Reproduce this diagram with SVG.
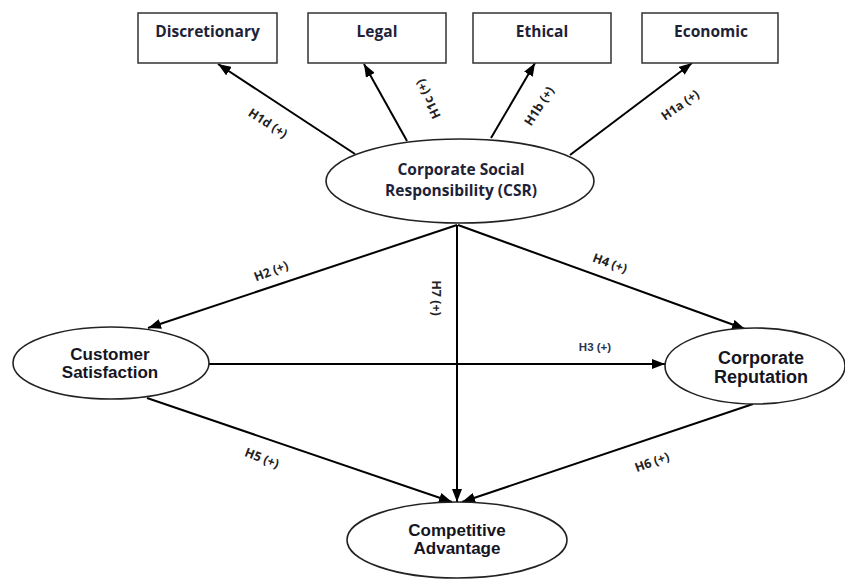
<svg xmlns="http://www.w3.org/2000/svg" width="845" height="579" viewBox="0 0 845 579">
<defs>
<marker id="ah" markerUnits="userSpaceOnUse" markerWidth="13" markerHeight="10" refX="13" refY="5" orient="auto">
<path d="M0,0 L13,5 L0,10 z" fill="#000"/>
</marker>
<style>
.box{fill:#fff;stroke:#333;stroke-width:1.5}
.ell{fill:#fff;stroke:#222;stroke-width:1.6}
.t1{font-family:"Open Sans","Liberation Sans",sans-serif;font-weight:bold;font-size:15.5px;fill:#1d2238;text-anchor:middle}
.t2{font-family:"Liberation Sans",Arial,sans-serif;font-weight:bold;font-size:17px;fill:#15151f;text-anchor:middle}
.lb{font-family:"Open Sans","Liberation Sans",sans-serif;font-weight:bold;font-size:12.5px;fill:#222;text-anchor:middle;dominant-baseline:central}
.lb3{font-family:"Liberation Sans",Arial,sans-serif;font-weight:bold;font-size:11.5px;fill:#2a3350;text-anchor:middle;dominant-baseline:central}
.cn{stroke:#000;stroke-width:2;fill:none;marker-end:url(#ah)}
</style>
</defs>
<rect width="845" height="579" fill="#fff"/>
<g id="connectors">
<line class="cn" x1="355" y1="154" x2="218" y2="64"/>
<line class="cn" x1="407" y1="141" x2="364" y2="64"/>
<line class="cn" x1="491" y1="138" x2="535" y2="63"/>
<line class="cn" x1="570" y1="155" x2="692" y2="63"/>
<line class="cn" x1="457" y1="225" x2="148" y2="328"/>
<line class="cn" x1="458" y1="225" x2="745" y2="329"/>
<line class="cn" x1="457" y1="225" x2="457" y2="502"/>
<line class="cn" x1="209" y1="364" x2="665" y2="364"/>
<line class="cn" x1="147" y1="398" x2="452" y2="502"/>
<line class="cn" x1="753" y1="404" x2="462" y2="502"/>
<text class="lb" transform="translate(268,123) rotate(33)">H1d (+)</text>
<text class="lb" transform="translate(428,99) rotate(-115)">H1c (+)</text>
<text class="lb" transform="translate(539,106) rotate(-57)">H1b (+)</text>
<text class="lb" transform="translate(680,105) rotate(-35)">H1a (+)</text>
<text class="lb" transform="translate(271,271) rotate(-21)">H2 (+)</text>
<text class="lb" transform="translate(610,263) rotate(20)">H4 (+)</text>
<text class="lb" transform="translate(436,298) rotate(90)">H7 (+)</text>
<text class="lb3" x="595" y="347">H3 (+)</text>
<text class="lb" transform="translate(262,458) rotate(21)">H5 (+)</text>
<text class="lb" transform="translate(652,462) rotate(-20)">H6 (+)</text>
</g>
<g id="discretionary">
<rect class="box" x="138" y="13" width="139" height="50"/>
<text class="t1" x="207.5" y="37">Discretionary</text>
</g>
<g id="legal">
<rect class="box" x="308" y="13" width="138" height="50"/>
<text class="t1" x="377" y="37">Legal</text>
</g>
<g id="ethical">
<rect class="box" x="473" y="13" width="138" height="50"/>
<text class="t1" x="542" y="37">Ethical</text>
</g>
<g id="economic">
<rect class="box" x="642" y="13" width="136" height="50"/>
<text class="t1" x="711" y="37">Economic</text>
</g>
<g id="csr">
<ellipse class="ell" cx="460" cy="181" rx="134" ry="42"/>
<text class="t1" x="461" y="175">Corporate Social</text>
<text class="t1" x="461" y="196">Responsibility (CSR)</text>
</g>
<g id="customer-satisfaction">
<ellipse class="ell" cx="111" cy="363" rx="98" ry="36"/>
<text class="t2" x="110" y="360">Customer</text>
<text class="t2" x="110" y="378">Satisfaction</text>
</g>
<g id="corporate-reputation">
<ellipse class="ell" cx="755" cy="366" rx="90" ry="38"/>
<text class="t2" x="761" y="364" style="font-size:18px">Corporate</text>
<text class="t2" x="761" y="383" style="font-size:18px">Reputation</text>
</g>
<g id="competitive-advantage">
<ellipse class="ell" cx="457" cy="540" rx="110" ry="38"/>
<text class="t2" x="457" y="536">Competitive</text>
<text class="t2" x="457" y="554">Advantage</text>
</g>
</svg>
